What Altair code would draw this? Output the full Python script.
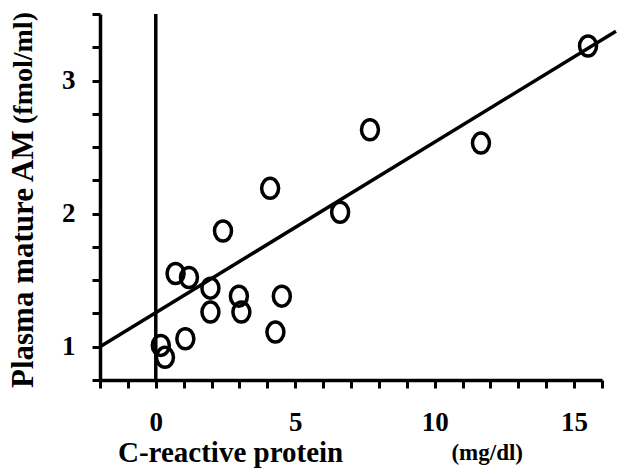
import altair as alt
import pandas as pd

# data
crp = [4.1, 2.41, 0.71, 1.19, 1.96, 2.98, 4.52, 1.96, 3.07, 4.29, 1.06, 0.18, 0.33, 6.61, 7.68, 11.66, 15.5]
am = [2.19, 1.87, 1.55, 1.52, 1.44, 1.38, 1.38, 1.26, 1.26, 1.11, 1.06, 1.01, 0.92, 2.01, 2.63, 2.53, 3.26]

fit_x = [-2.0, 16.5]
fit_y = [1.0, 3.37]

zero_x = [0.0]
y_span = [0.75, 3.5]

x_ticks = list(range(-2, 17))
y_ticks = [0.75 + 0.25 * i for i in range(12)]
x_labels = [0, 5, 10, 15]
y_labels = [1, 2, 3]

FONT = "Liberation Serif"

pts = pd.DataFrame({"crp": crp, "am": am})
fit = pd.DataFrame({"crp": fit_x, "am": fit_y})
zero = pd.DataFrame({"crp": zero_x, "y1": [y_span[0]], "y2": [y_span[1]]})

xscale = alt.Scale(domain=[-2, 16], nice=False, zero=False)
yscale = alt.Scale(domain=[0.75, 3.5], nice=False, zero=False)

xlab_expr = "indexof([" + ",".join(str(v) for v in x_labels) + "], datum.value) >= 0 ? format(datum.value, 'd') : ''"
ylab_expr = "indexof([" + ",".join(str(v) for v in y_labels) + "], datum.value) >= 0 ? format(datum.value, 'd') : ''"

xaxis = alt.Axis(values=x_ticks, tickCount=100, labelExpr=xlab_expr, title=None, labelPadding=21,
                 labelOverlap=False, labelFlush=False)
yaxis = alt.Axis(values=y_ticks, tickCount=100, labelExpr=ylab_expr, title=None, labelPadding=17,
                 labelOverlap=False, labelFlush=False)

ellipse = "M -0.85 0 A 0.85 1 0 1 1 0.85 0 A 0.85 1 0 1 1 -0.85 0 Z"

points = alt.Chart(pts).mark_point(
    shape=ellipse, size=400, filled=False, stroke="black", strokeWidth=3.5, opacity=1
).encode(
    x=alt.X("crp:Q", scale=xscale, axis=xaxis),
    y=alt.Y("am:Q", scale=yscale, axis=yaxis),
)

line = alt.Chart(fit).mark_line(color="black", strokeWidth=3.5, clip=False).encode(
    x=alt.X("crp:Q", scale=xscale),
    y=alt.Y("am:Q", scale=yscale),
)

vline = alt.Chart(zero).mark_rule(color="black", strokeWidth=3.5).encode(
    x=alt.X("crp:Q", scale=xscale),
    y=alt.Y("y1:Q", scale=yscale),
    y2="y2:Q",
)

def label(txt, x, y, size, align, angle=0):
    return alt.Chart(pd.DataFrame({"t": [txt]})).mark_text(
        font=FONT, fontWeight="bold", fontSize=size, align=align,
        baseline="middle", angle=angle, color="black",
    ).encode(text="t:N", x=alt.value(x), y=alt.value(y))

titles = [
    label("Plasma mature AM", -76, 374, 31, "left", 270),
    label("(fmol/ml)", -76, 110, 28, "left", 270),
    label("C-reactive protein", 18, 439, 29, "left"),
    label("(mg/dl)", 423, 439, 23, "right"),
]

chart = alt.layer(points, vline, line, *titles).properties(
    width=502, height=366,
    background="white",
    autosize=alt.AutoSizeParams(type="none"),
    padding={"left": 100, "top": 14, "right": 17, "bottom": 93},
).configure_view(stroke=None).configure_axis(
    grid=False, domainColor="black", domainWidth=3.5, tickColor="black", tickWidth=3,
    tickSize=8, labelFont=FONT, labelFontWeight="bold", labelFontSize=27,
    labelColor="black",
)

chart.save("out.html", embed_options={"renderer": "svg", "actions": False})
